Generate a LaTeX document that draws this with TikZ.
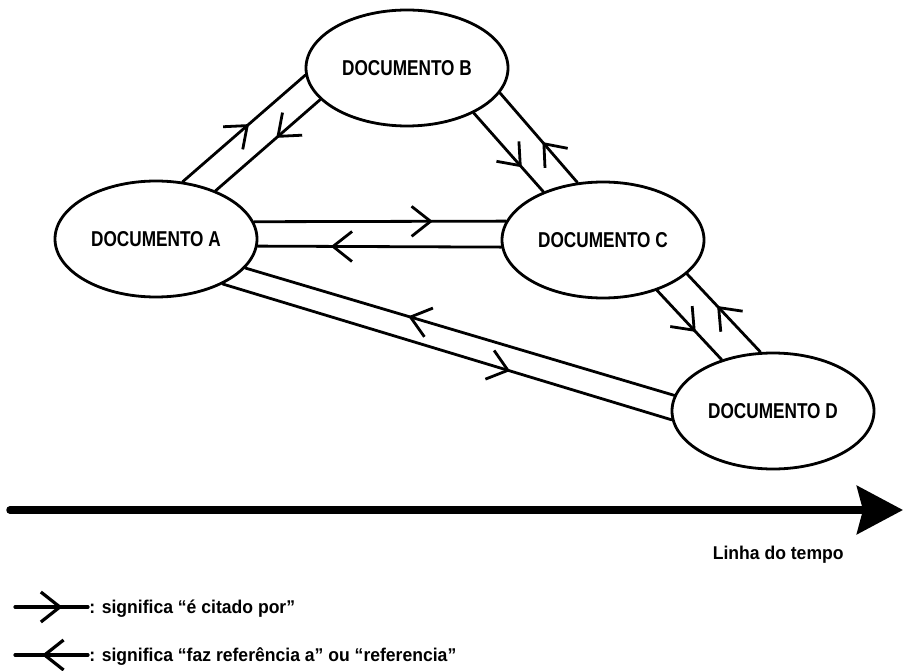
\documentclass[tikz,border=0pt]{standalone}
\usepackage{fontspec}
\newfontfamily\docfont{Liberation Sans}[FakeStretch=0.8]
\newfontfamily\legfont{Liberation Sans}[FakeStretch=0.95]
\usetikzlibrary{shapes.geometric,arrows.meta,decorations.markings}
\tikzset{
	doc/.style={ellipse,draw,minimum width=202pt,minimum height=116pt,inner sep=0pt,font=\docfont\bfseries\fontsize{21.5}{24}\selectfont},
	legenda/.style={inner sep=0pt,font=\legfont\bfseries\fontsize{18.5}{22}\selectfont},
	ponta/.tip={Straight Barb[length=19pt,width=30pt]},
	citado/.style={postaction={decorate,decoration={markings,mark=at position #1 with {\arrow{ponta}}}}},
	refere/.style={postaction={decorate,decoration={markings,mark=at position #1 with {\arrowreversed{ponta}}}}}
}
\begin{document}
\begin{tikzpicture}[x=1pt,y=-1pt,line width=2.8pt,line join=round,line cap=round]
	\useasboundingbox (0,0) rectangle (905,671);
	\node[doc] (A) at (156,239) {DOCUMENTO A};
	\node[doc] (B) at (407,68) {DOCUMENTO B};
	\node[doc] (C) at (603,240) {DOCUMENTO C};
	\node[doc] (D) at (773,411) {DOCUMENTO D};
	% pares de citacao
	\draw[citado=0.54] (A.65) -- (B.184);
	\draw[refere=0.58] (A.39) -- (B.200);
	\draw[citado=0.71] (A.10) -- (C.169);
	\draw[refere=0.30] (A.-4.6) -- (C.184);
	\draw[citado=0.69] (B.326) -- (C.141);
	\draw[refere=0.55] (B.345) -- (C.114.5);
	\draw[citado=0.60] (C.317) -- (D.135);
	\draw[refere=0.41] (C.338.6) -- (D.102.6);
	\draw[refere=0.38] (A.-18) -- (D.171);
	\draw[citado=0.64] (A.-34.5) -- (D.185);
	% linha do tempo
	\path (10,510) coordinate (t0) (903,510) coordinate (t1);
	\draw[line width=7.5pt,-{Stealth[length=46pt,width=48pt,inset=6pt]}] (t0) -- (t1);
	\node[legenda,anchor=base east] (tempo) at (845,559) {Linha do tempo};
	% legenda
	\node[legenda,anchor=base west] (cit) at (88,613) {: significa “é citado por”};
	\node[legenda,anchor=base west] (ref) at (88,661) {: significa “faz referência a” ou “referencia”};
	\path (15,607) coordinate (c1) (15,655) coordinate (c2);
	\draw[line width=3.2pt,citado=0.65] (c1) -- (c1 -| cit.west);
	\draw[line width=3.2pt,refere=0.37] (c2) -- (c2 -| ref.west);
\end{tikzpicture}
\end{document}
